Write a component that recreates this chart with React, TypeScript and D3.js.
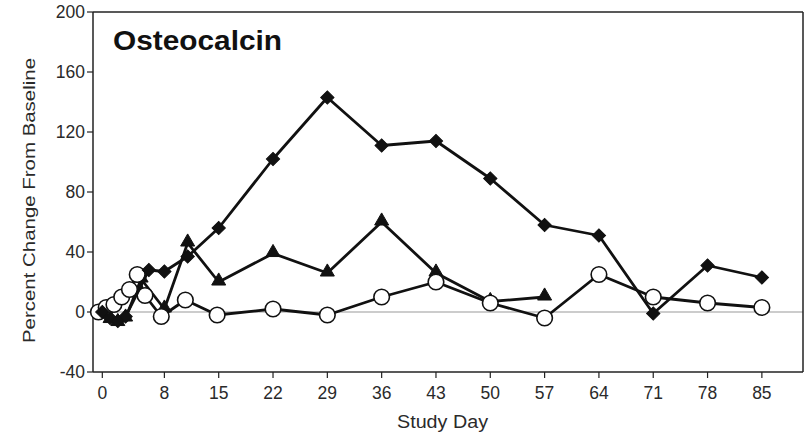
import React from "react";
import * as d3 from "d3";

const diamondDays = [0, 1, 2, 3, 6, 8, 11, 15, 22, 29, 36, 43, 50, 57, 64, 71, 78, 85];
const diamondValues = [0, -4, -6, -3, 28, 27, 37, 56, 102, 143, 111, 114, 89, 58, 51, -1, 31, 23];

const triangleDays = [0, 1, 2, 3, 5, 8, 11, 15, 22, 29, 36, 43, 50, 57];
const triangleValues = [0, -5, -7, -4, 22, 2, 46, 20, 39, 26, 60, 26, 7, 10];

const circleDays = [-0.5, 0.5, 1.5, 2.5, 3.5, 4.5, 5.5, 7.6, 10.7, 14.8, 22, 29, 36, 43, 50, 57, 64, 71, 78, 85];
const circleValues = [0, 3, 5, 10, 15, 25, 11, -3, 8, -2, 2, -2, 10, 20, 6, -4, 25, 10, 6, 3];

const xTickValues = [0, 8, 15, 22, 29, 36, 43, 50, 57, 64, 71, 78, 85];
const yTickValues = [-40, 0, 40, 80, 120, 160, 200];

const title = "Osteocalcin";
const xLabel = "Study Day";
const yLabel = "Percent Change From Baseline";

type Pt = { x: number; y: number };
const zip = (xs: number[], ys: number[]): Pt[] => xs.map((x, i) => ({ x, y: ys[i] }));

export default function App() {
  const left = 93, right = 803, top = 12, bottom = 372;
  const x = d3.scaleLinear().domain([-1.2, 90.3]).range([left, right]);
  const y = d3.scaleLinear().domain([-40, 200]).range([bottom, top]);
  const line = d3.line<Pt>().x((d) => x(d.x)).y((d) => y(d.y));

  const diamonds = zip(diamondDays, diamondValues);
  const triangles = zip(triangleDays, triangleValues);
  const circles = zip(circleDays, circleValues);

  const diamondPath = d3.symbol().type(d3.symbolSquare).size(88)() as string;
  const trianglePath = d3.symbol().type(d3.symbolTriangle).size(85)() as string;

  const font = "'Liberation Sans', Arial, sans-serif";
  const textColor = "#2a2a2a";

  return (
    <svg
      width={808}
      height={433}
      style={{ position: "absolute", left: 0, top: 0, background: "#fff" }}
      fontFamily={font}
    >
      <rect x={0} y={0} width={808} height={433} fill="#fff" />
      {/* zero line */}
      <line x1={left} x2={right} y1={y(0)} y2={y(0)} stroke="#999" strokeWidth={1} />
      {/* frame */}
      <line x1={left} x2={right} y1={top} y2={top} stroke="#222" strokeWidth={1.5} />
      <line x1={right} x2={right} y1={top} y2={bottom} stroke="#222" strokeWidth={1.5} />
      <line x1={left} x2={left} y1={top} y2={bottom} stroke="#222" strokeWidth={1.5} />
      <line x1={left} x2={right} y1={bottom} y2={bottom} stroke="#222" strokeWidth={1.5} />

      {/* y ticks */}
      {yTickValues.map((v) => (
        <g key={"y" + v}>
          <line x1={left - 6} x2={left} y1={y(v)} y2={y(v)} stroke="#222" strokeWidth={1.2} />
          <text x={left - 8} y={y(v) + 6} textAnchor="end" fontSize={17.5} fill={textColor}>
            {v}
          </text>
        </g>
      ))}
      {/* x ticks */}
      {xTickValues.map((v) => (
        <g key={"x" + v}>
          <line x1={x(v)} x2={x(v)} y1={bottom} y2={bottom + 6} stroke="#222" strokeWidth={1.2} />
          <text x={x(v)} y={399} textAnchor="middle" fontSize={17.5} fill={textColor}>
            {v}
          </text>
        </g>
      ))}

      {/* axis labels */}
      <text
        x={442.5}
        y={428}
        textAnchor="middle"
        fontSize={17.5}
        fill={textColor}
        textLength={91}
        lengthAdjust="spacingAndGlyphs"
      >
        {xLabel}
      </text>
      <text
        transform={`translate(35,200.5) rotate(-90)`}
        textAnchor="middle"
        fontSize={17}
        fill={textColor}
        textLength={285}
        lengthAdjust="spacingAndGlyphs"
      >
        {yLabel}
      </text>

      {/* title */}
      <text
        x={113}
        y={50}
        fontSize={28}
        fontWeight="bold"
        fill="#111"
        textLength={169}
        lengthAdjust="spacingAndGlyphs"
      >
        {title}
      </text>

      {/* triangles series */}
      <path d={line(triangles) as string} fill="none" stroke="#111" strokeWidth={2.8} strokeLinejoin="round" />
      {triangles.map((d, i) => (
        <path key={"t" + i} d={trianglePath} transform={`translate(${x(d.x)},${y(d.y) - 1})`} fill="#111" stroke="#111" strokeWidth={1} />
      ))}

      {/* circles series */}
      <path d={line(circles) as string} fill="none" stroke="#111" strokeWidth={2.8} strokeLinejoin="round" />
      {circles.map((d, i) => (
        <circle key={"c" + i} cx={x(d.x)} cy={y(d.y)} r={7.8} fill="#fff" stroke="#111" strokeWidth={1.6} />
      ))}

      {/* diamonds series */}
      <path d={line(diamonds) as string} fill="none" stroke="#111" strokeWidth={2.8} strokeLinejoin="round" />
      {diamonds.map((d, i) => (
        <path key={"d" + i} d={diamondPath} transform={`translate(${x(d.x)},${y(d.y)}) rotate(45)`} fill="#111" stroke="#111" strokeWidth={1} />
      ))}
    </svg>
  );
}
